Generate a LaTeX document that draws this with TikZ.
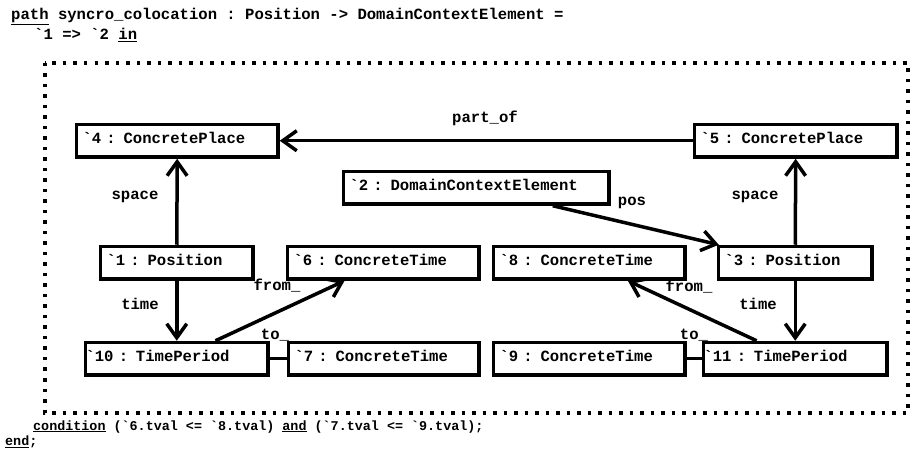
\documentclass[tikz,border=0pt]{standalone}
\usepackage{fontspec}
\setmonofont{Liberation Mono}
\usetikzlibrary{positioning,arrows.meta}

\begin{document}
\begin{tikzpicture}[
  x=1pt, y=-1pt,
  font=\ttfamily\bfseries\fontsize{15.6}{18}\selectfont,
  obj/.style={draw, line width=3.5pt, anchor=north west, align=left, fill=white,
              xshift=1.75pt, yshift=-1.75pt, inner xsep=6pt,
              minimum height=32.5pt, text height=11pt, text depth=5pt},
  tp/.style={obj, inner xsep=0pt},
  arr/.style={-{Straight Barb[length=14pt,width=20pt]}, line width=3.5pt},
  plain/.style={line width=3.5pt},
  frame/.style={line width=3.5pt, dash pattern=on 3.5pt off 7pt},
  lab/.style={anchor=base, inner sep=0pt},
  code/.style={anchor=base west, inner sep=0pt},
  cond/.style={code, font=\ttfamily\bfseries\fontsize{13.4}{15}\selectfont}
]
\useasboundingbox (0,0) rectangle (914,465);
% ================= header =================
\node[code] (head1) at (11,20)
  {\underline{path} syncro\_colocation : Position -> DomainContextElement =};
\node[code] (head2) at (34,40) {`1 => `2 \underline{in}};
% ================= dotted frame =================
\draw[frame] (45,63) rectangle (908,413);
% ================= places and domain element =================
\node[obj, text width=189.5pt] (p4)  at (73,121)  {`4 : ConcretePlace};
\node[obj, text width=190.5pt] (p5)  at (691,121) {`5 : ConcretePlace};
\node[obj, text width=253.5pt] (de2) at (340,168) {`2 : DomainContextElement};
% ================= positions and times =================
\node[obj, text width=140.5pt] (pos1) at (97,243)  {`1 : Position};
\node[obj, text width=179.5pt] (t6)   at (284,243) {`6 : ConcreteTime};
\node[obj, text width=179.5pt] (t8)   at (490,243) {`8 : ConcreteTime};
\node[obj, text width=141.5pt] (pos3) at (715,243) {`3 : Position};
% ================= time periods =================
\node[tp,  text width=182.5pt] (tp10) at (82,339)  {`10 : TimePeriod};
\node[obj, text width=178.5pt] (t7)   at (285,339) {`7 : ConcreteTime};
\node[obj, text width=179.5pt] (t9)   at (490,339) {`9 : ConcreteTime};
\node[tp,  text width=183.5pt] (tp11) at (700,339) {`11 : TimePeriod};
% ================= links =================
\foreach \a/\b in {p5/p4, pos1/p4, pos3/p5, de2/pos3, pos1/tp10, pos3/tp11, tp10/t6, tp11/t8}
  {\draw[arr] (\a) -- (\b);}
\draw[plain] (tp10) -- (t7);
\draw[plain] (tp11) -- (t9);
% link labels
\node[lab] (lpart)  at (485,123) {part\_of};
\node[lab] (lspL)   at (135,200) {space};
\node[lab] (lspR)   at (755,200) {space};
\node[lab] (lpos)   at (632,206) {pos};
\node[lab] (ltiL)   at (140,310) {time};
\node[lab] (ltiR)   at (758,310) {time};
\node[lab] (lfrL)   at (277,291) {from\_};
\node[lab] (lfrR)   at (689,292) {from\_};
\node[lab] (ltoL)   at (275,340) {to\_};
\node[lab] (ltoR)   at (694,340) {to\_};
% ================= footer =================
\node[cond] (cond) at (33,430)
  {\underline{condition} (`6.tval <= `8.tval) \underline{and} (`7.tval <= `9.tval);};
\node[cond] (foot) at (5,446) {\underline{end};};
\end{tikzpicture}
\end{document}
